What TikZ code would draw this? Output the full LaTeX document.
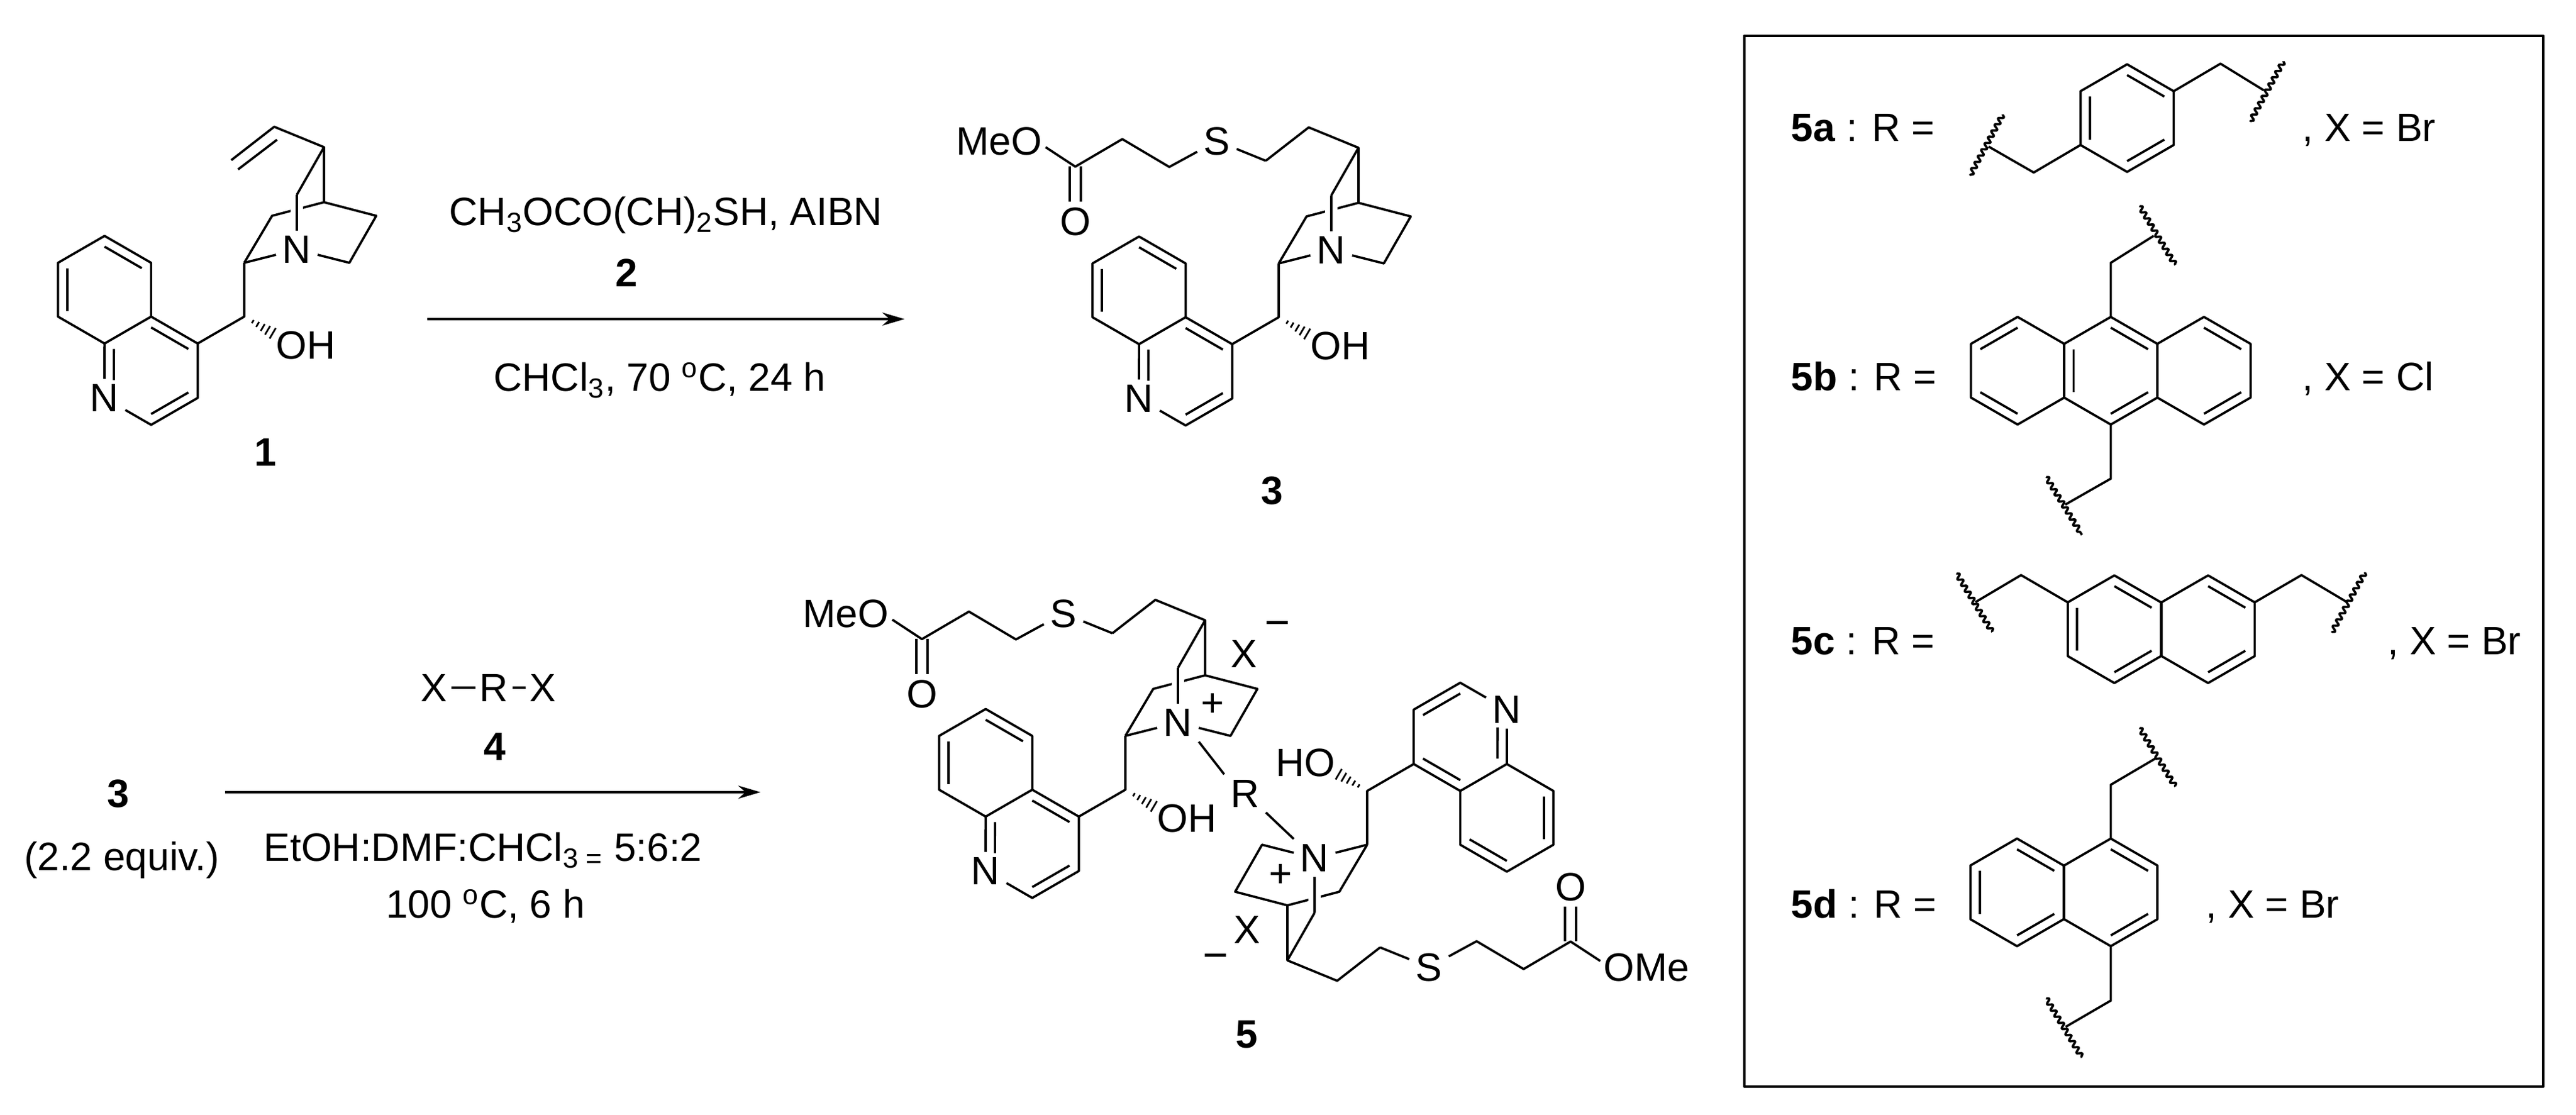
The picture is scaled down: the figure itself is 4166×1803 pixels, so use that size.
\documentclass[tikz,border=0pt]{standalone}
\usepackage{fontspec}
\setmainfont{Liberation Sans}
\usetikzlibrary{arrows.meta,calc,decorations.pathmorphing}

\newcommand{\inbond}[3]{\draw ($(#1)!.2!(#3)$) -- ($(#2)!.2!(#3)$);}

\tikzset{
    atom/.style={inner xsep=2.5pt,inner ysep=2pt},
    plain/.style={inner sep=0pt},
    groupname/.style={anchor=base west,inner sep=0pt},
    caption/.style={anchor=base,inner sep=0pt},
    over/.style={preaction={draw,white,line width=5.5pt}},
    dbl/.style={double,double distance=.137cm},
    wavy/.style={decorate,decoration={snake,amplitude=.4mm,segment length=1.15mm}},
    pics/hexring/.style={code={
        \coordinate (c) at (0,0);
        \foreach \a in {30,90,...,330} {\coordinate (v\a) at (\a:87);}
        \draw (v30) -- (v90) -- (v150) -- (v210) -- (v270) -- (v330) -- cycle;
        \foreach \p/\q in {#1} {\inbond{v\p}{v\q}{c}}
    }},
    pics/cinchona/.style 2 args={code={
        %Quinoline
        \coordinate (c4a) at (-150.6,0);
        \coordinate (c8a) at (-225.9,-43.5);
        \coordinate (c5) at (-150.6,87);
        \coordinate (c6) at (-225.9,130.5);
        \coordinate (c7) at (-301.2,87);
        \coordinate (c8) at (-301.2,0);
        \coordinate (bc) at (-225.9,43.5);
        \coordinate (c4) at (-75.3,-43.5);
        \coordinate (c3) at (-75.3,-131.5);
        \coordinate (c2) at (-150.6,-175);
        \coordinate (pc) at (-150.6,-87.5);
        \node[atom] (nq) at (-226,-131.5) {N};
        \draw (c4a) -- (c5) -- (c6) -- (c7) -- (c8) -- (c8a) -- (c4a);
        \draw (c4a) -- (c4) -- (c3) -- (c2) -- (nq) -- (c8a);
        \inbond{c5}{c6}{bc}
        \inbond{c7}{c8}{bc}
        \inbond{c4a}{c4}{pc}
        \inbond{c3}{c2}{pc}
        \draw[shorten >=.2cm] ($(c8a)!.2!(pc)$) -- ($(nq)!.2!(pc)$);
        %Carbinol
        \coordinate (ch) at (0,0);
        \coordinate (c9) at (0,87);
        \node[plain,anchor=#2] (oh) at (50,-46) {#1};
        \draw (c4) -- (ch) -- (c9);
        \foreach \t in {.3,.47,.65,.82,1} {
            \draw[line width=.8pt] ({46*\t+5*\t},{-27*\t+8.5*\t}) -- ({46*\t-5*\t},{-27*\t-8.5*\t});
        }
        %Cage
        \coordinate (ca) at (45,163);
        \coordinate (cb) at (85,197);
        \coordinate (ct) at (129,274);
        \coordinate (cc) at (129,185);
        \coordinate (cd) at (213.5,163);
        \coordinate (ce) at (170,87);
        \coordinate (v1) at (48.5,307);
        \coordinate (v2) at (-21,253);
        \node[atom] (n) at (85,108.5) {N};
        \draw (c9) -- (ca) -- (cc);
        \draw[over] (n) -- (cb);
        \draw (c9) -- (n) -- (ce) -- (cd) -- (cc) -- (ct) -- (cb);
        \draw (ct) -- (v1) -- (v2);
    }},
    pics/vinylend/.style={code={
        \coordinate (w1) at (53,286);
        \coordinate (w2) at (-10,238);
        \draw (w1) -- (w2);
    }},
    pics/estertail/.style 2 args={code={
        \coordinate (st) at (-21,253);
        \coordinate (c1) at (-177,243);
        \coordinate (c2) at (-253,288);
        \coordinate (co) at (-329,243.5);
        \coordinate (ob) at (-377,275);
        \node[atom] (s) at (-100,285) {S};
        \node[atom] (o) at (-329,155) {O};
        \node[plain,anchor=#2] (me) at (-381,285) {#1};
        \draw[dbl] (co) -- (o);
        \draw (st) -- (s) -- (c1) -- (c2) -- (co) -- (ob);
    }},
}

\begin{document}
\begin{tikzpicture}[x=.01cm,y=.01cm,line width=1.05pt,line join=round,
    every node/.style={font=\fontsize{18.2}{22}\selectfont}]
    \useasboundingbox (0,0) rectangle (4166,1803);

    %Molecule 1
    \pic (ma-) at (395,1291) {cinchona={OH}{west}};
    \pic (mv-) at (395,1291) {vinylend};
    \node[caption] (la) at (429,1049) {\textbf{1}};

    %Molecule 3
    \pic (mc-) at (2068,1290) {cinchona={OH}{west}};
    \pic (td-) at (2068,1290) {estertail={MeO}{east}};
    \node[caption] (lc) at (2057,987) {\textbf{3}};

    %Molecule 5
    \pic (me-) at (1820,526) {cinchona={OH}{west}};
    \pic (te-) at (1820,526) {estertail={MeO}{east}};
    \pic[rotate=180] (mf-) at (2211,524) {cinchona={HO}{east}};
    \pic[rotate=180] (tf-) at (2211,524) {estertail={OMe}{west}};
    \node[atom] (rr) at (2013.5,520) {R};
    \draw (me-n.south east) -- (rr.north west);
    \draw (rr.south east) -- (mf-n.north west);
    \node[plain] (xa) at (2012,746) {X};
    \node[plain,font=\fontsize{20}{22}\selectfont] (ma) at (2066,785) {−};
    \node[plain] (pa) at (1961,663) {+};
    \node[plain] (xb) at (2017,300) {X};
    \node[plain,font=\fontsize{20}{22}\selectfont] (mb) at (1966,247) {−};
    \node[plain] (pb) at (2071,387) {+};
    \node[caption] (le) at (2016,108) {\textbf{5}};

    %Reaction 1
    \begin{scope}[>={Stealth[length=.36cm,width=.21cm]},line width=1.3pt]
        \coordinate (a1s) at (691,1287);
        \coordinate (a1e) at (1463,1287);
        \draw[->] (a1s) -- (a1e);
        \coordinate (a2s) at (364,522);
        \coordinate (a2e) at (1230,522);
        \draw[->] (a2s) -- (a2e);
    \end{scope}
    \node[caption] (ta) at (1077,1438) {CH\textsubscript{3}OCO(CH)\textsubscript{2}SH, AIBN};
    \node[caption] (tb) at (1013.6,1339) {\textbf{2}};
    \node[caption] (tc) at (1067,1170) {CHCl\textsubscript{3}, 70 \textsuperscript{o}C, 24 h};

    %Reaction 2
    \node[atom,inner xsep=1.5pt] (qa) at (702,691) {X};
    \node[atom,inner xsep=1.5pt] (qb) at (799,691) {R};
    \node[atom,inner xsep=1.5pt] (qc) at (878,691) {X};
    \draw (qa) -- (qb) -- (qc);
    \node[caption] (td) at (800.5,573) {\textbf{4}};
    \node[caption] (te) at (781,410) {EtOH:DMF:CHCl\textsubscript{3 =} 5:6:2};
    \node[caption] (tf) at (785,318) {100 \textsuperscript{o}C, 6 h};
    \node[caption] (tg) at (191.6,497) {\textbf{3}};
    \node[caption] (th) at (197,395) {(2.2 equiv.)};

    %Box
    \draw[line width=1.2pt] (2821,46) rectangle (4113,1745);

    %5a
    \node[groupname] (ga) at (2895,1574) {\textbf{5a} : R =};
    \node[groupname] (xga) at (3722,1574) {, X = Br};
    \pic (ra-) at (3440,1612) {hexring={90/30,150/210,270/330}};
    \coordinate (aa) at (3591,1700);
    \coordinate (ab) at (3661,1657);
    \coordinate (ac) at (3693,1704);
    \coordinate (ad) at (3639,1606);
    \coordinate (ae) at (3289,1524);
    \coordinate (af) at (3216,1566);
    \coordinate (ag) at (3239,1618);
    \coordinate (ah) at (3186,1519);
    \draw (ra-v30) -- (aa) -- (ab);
    \draw (ra-v210) -- (ae) -- (af);
    \draw[wavy] (ac) -- (ad);
    \draw[wavy] (ag) -- (ah);

    %5b
    \node[groupname] (gb) at (2895,1171) {\textbf{5b} : R =};
    \node[groupname] (xgb) at (3722,1171) {, X = Cl};
    \pic (rb-) at (3413.6,1203.5) {hexring={90/30,150/210,270/330}};
    \pic (rc-) at (3262.9,1203.5) {hexring={90/150,210/270}};
    \pic (rd-) at (3564.3,1203.5) {hexring={90/30,270/330}};
    \coordinate (ba) at (3413.6,1378);
    \coordinate (bb) at (3483,1421.6);
    \coordinate (bc) at (3460,1470);
    \coordinate (bd) at (3518,1374.4);
    \coordinate (be) at (3413.6,1029);
    \coordinate (bf) at (3340,987);
    \coordinate (bg) at (3309,1032);
    \coordinate (bh) at (3367,938);
    \draw (rb-v90) -- (ba) -- (bb);
    \draw (rb-v270) -- (be) -- (bf);
    \draw[wavy] (bc) -- (bd);
    \draw[wavy] (bg) -- (bh);

    %5c
    \node[groupname] (gc) at (2895,744) {\textbf{5c} : R =};
    \node[groupname] (xgc) at (3860,744) {, X = Br};
    \pic (re-) at (3419.4,785.5) {hexring={90/30,150/210,270/330}};
    \pic (rf-) at (3571,785.5) {hexring={90/30,270/330}};
    \coordinate (ca) at (3268.5,873);
    \coordinate (cb) at (3194.7,829.3);
    \coordinate (cc) at (3164,876);
    \coordinate (cd) at (3222,781);
    \coordinate (ce) at (3722,873);
    \coordinate (cf) at (3795.7,829.3);
    \coordinate (cg) at (3824.7,877.6);
    \coordinate (ch) at (3771,780);
    \draw (re-v150) -- (ca) -- (cb);
    \draw (rf-v30) -- (ce) -- (cf);
    \draw[wavy] (cc) -- (cd);
    \draw[wavy] (cg) -- (ch);

    %5d
    \node[groupname] (gd) at (2895,318.5) {\textbf{5d} : R =};
    \node[groupname] (xgd) at (3566,318.5) {, X = Br};
    \pic (rg-) at (3262,360) {hexring={90/30,150/210,270/330}};
    \pic (rh-) at (3413.6,360) {hexring={90/30,270/330}};
    \coordinate (da) at (3413.6,534);
    \coordinate (db) at (3485,576);
    \coordinate (dc) at (3460,626);
    \coordinate (dd) at (3518,531);
    \coordinate (de) at (3413.6,185);
    \coordinate (df) at (3340.6,142.5);
    \coordinate (dg) at (3309,189);
    \coordinate (dh) at (3367,93);
    \draw (rh-v90) -- (da) -- (db);
    \draw (rh-v270) -- (de) -- (df);
    \draw[wavy] (dc) -- (dd);
    \draw[wavy] (dg) -- (dh);
\end{tikzpicture}
\end{document}
